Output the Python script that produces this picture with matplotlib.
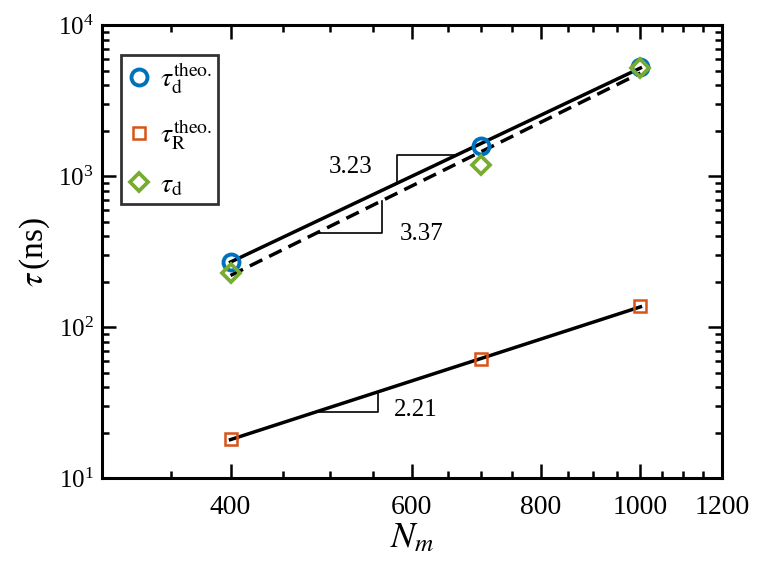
import numpy as np
import matplotlib
matplotlib.use("Agg")
import matplotlib.pyplot as plt
from matplotlib.ticker import FixedLocator, NullFormatter, LogLocator

plt.rcParams['font.family'] = ['Liberation Serif', 'DejaVu Serif']
plt.rcParams['mathtext.fontset'] = 'stix'

# ---- data ----
N_m = [400, 700, 1000]
tau_d_theo = [270, 1580, 5270]
tau_R_theo = [18.3, 62, 139]
tau_d = [228, 1190, 5250]

# power-law fits: prefactor at N=400 and exponent
fit_d_theo = (270, 3.23)
fit_d = (220, 3.37)
fit_R = (18.0, 2.21)
fit_labels = ['3.23', '3.37', '2.21']

x_ticks = [400, 600, 800, 1000, 1200]
x_minor = [350, 450, 500, 550, 650, 700, 750, 850, 900, 950, 1050, 1100, 1150]

c_blue = '#0072BD'
c_orange = '#D95319'
c_green = '#77AC30'

fig = plt.figure(figsize=(7.6, 5.74), dpi=100)
ax = fig.add_axes([0.134, 0.167, 0.816, 0.789])
ax.set_xscale('log')
ax.set_yscale('log')
ax.set_xlim(300, 1200)
ax.set_ylim(10, 1e4)

def fitline(p, x):
    x = np.asarray(x, dtype=float)
    return p[0] * (x / 400.0) ** p[1]

xf = np.array([N_m[0], N_m[-1]], dtype=float)
ax.plot(xf, fitline(fit_d_theo, xf), '-', color='k', lw=2.5, zorder=3)
ax.plot(xf, fitline(fit_d, xf), '--', color='k', lw=2.5, dashes=(4, 2.2), zorder=3)
ax.plot(xf, fitline(fit_R, xf), '-', color='k', lw=2.5, zorder=3)

ax.plot(N_m, tau_d_theo, 'o', ls='none', mfc='none', mec=c_blue, ms=11.5, mew=2.8,
        label=r'$\tau_{\mathrm{d}}^{\mathrm{theo.}}$', zorder=4)
ax.plot(N_m, tau_R_theo, 's', ls='none', mfc='none', mec=c_orange, ms=9, mew=1.8,
        label=r'$\tau_{\mathrm{R}}^{\mathrm{theo.}}$', zorder=4)
ax.plot(N_m, tau_d, 'D', ls='none', mfc='none', mec=c_green, ms=9.5, mew=2.7,
        label=r'$\tau_{\mathrm{d}}$', zorder=5)

# slope triangles
tri_kw = dict(color='k', lw=1.2, zorder=2)
fs_ann = 18
# 3.23 above solid line
x1, x2 = 580, 662
y1, y2 = fitline(fit_d_theo, x1), fitline(fit_d_theo, x2)
ax.plot([x1, x1, x2], [y1, y2, y2], **tri_kw)
ax.annotate(fit_labels[0], xy=(x1, y2), xytext=(-46, -12), textcoords='offset pixels',
            fontsize=fs_ann, ha='center', va='center')
# 3.37 below dashed line
x1, x2 = 485, 561
y1, y2 = fitline(fit_d, x1), fitline(fit_d, x2)
ax.plot([x1, x2, x2], [y1, y1, y2], **tri_kw)
ax.annotate(fit_labels[1], xy=(x2, y1), xytext=(40, -1), textcoords='offset pixels',
            fontsize=fs_ann, ha='center', va='center')
# 2.21 below lower line
x1, x2 = 485, 556
y1, y2 = fitline(fit_R, x1), fitline(fit_R, x2)
ax.plot([x1, x2, x2], [y1, y1, y2], **tri_kw)
ax.annotate(fit_labels[2], xy=(x2, y1), xytext=(38, 2), textcoords='offset pixels',
            fontsize=fs_ann, ha='center', va='center')

ax.xaxis.set_major_locator(FixedLocator(x_ticks))
ax.xaxis.set_minor_locator(FixedLocator(x_minor))
ax.xaxis.set_minor_formatter(NullFormatter())
ax.set_xticklabels([str(t) for t in x_ticks])
ax.yaxis.set_major_locator(LogLocator(base=10, numticks=10))
ax.yaxis.set_minor_locator(LogLocator(base=10, subs=np.arange(2, 10), numticks=20))
ax.yaxis.set_minor_formatter(NullFormatter())

ax.tick_params(which='both', direction='in', top=True, right=True, width=1.8)
ax.tick_params(which='major', length=10, pad=8)
ax.tick_params(which='minor', length=5)
ax.tick_params(axis='x', which='major', labelsize=20, pad=12)
ax.tick_params(axis='y', which='major', labelsize=18, pad=6)
for s in ax.spines.values():
    s.set_linewidth(2.2)

ax.set_xlabel(r'$N_{m}$', fontsize=26, labelpad=2)
ax.set_ylabel(r'$\tau\,$(ns)', fontsize=24, labelpad=4)

leg = ax.legend(loc='upper left', bbox_to_anchor=(0.031, 0.934), fontsize=20, frameon=True,
                fancybox=False, edgecolor='k', handlelength=0.9, handletextpad=0.3,
                borderpad=0.2, labelspacing=0.75, borderaxespad=0.0)
leg.get_frame().set_linewidth(2.0)

fig.savefig('out.png', dpi=100)
